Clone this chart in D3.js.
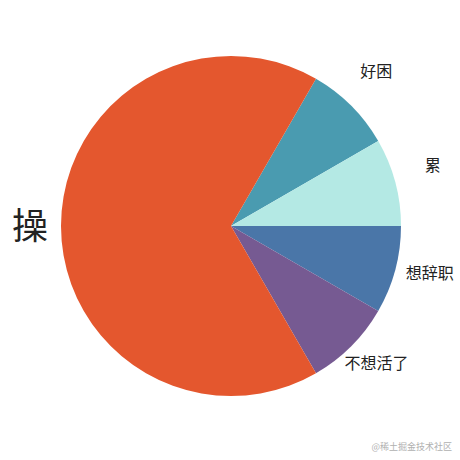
<!DOCTYPE html>
<html><head><meta charset="utf-8">
<script src="https://cdn.jsdelivr.net/npm/d3@7"></script>
<style>html,body{margin:0;padding:0;background:#fff;}</style>
</head><body>
<svg id="c" width="460" height="460"></svg>
<script>
const categories = ["好困", "累", "想辞职", "不想活了", "操"];
const values = [1, 1, 1, 1, 8];
const colors = ["#4a9bb0", "#b4e9e4", "#4a76a8", "#765a92", "#e4572e"];

const svg = d3.select("#c");
const cx = 231, cy = 226, r = 170;
const g = svg.append("g").attr("transform", `translate(${cx},${cy})`);
const pie = d3.pie().sort(null).value(d => d).startAngle(Math.PI / 6).endAngle(Math.PI / 6 + 2 * Math.PI);
const arcs = pie(values);
const arc = d3.arc().innerRadius(0).outerRadius(r);
g.selectAll("path").data(arcs).join("path")
  .attr("d", arc).attr("fill", (d, i) => colors[i]);

// label layout
const labelSizes = [16, 16, 16, 16, 36];
const labelRadius = [213, 211, 204, 199, 201];
const labelShift = [-2, -2, -2, -2, 1].map(v => v * Math.PI / 180);
const mid = (d, i) => (d.startAngle + d.endAngle) / 2 + labelShift[i];
g.selectAll("text.lbl").data(arcs).join("text")
  .attr("class", "lbl")
  .attr("font-family", "'Noto Sans CJK SC', sans-serif")
  .attr("font-size", (d, i) => labelSizes[i])
  .attr("fill", "#222")
  .attr("dominant-baseline", "central")
  .attr("text-anchor", "middle")
  .attr("x", (d, i) => Math.sin(mid(d, i)) * labelRadius[i])
  .attr("y", (d, i) => -Math.cos(mid(d, i)) * labelRadius[i])
  .text((d, i) => categories[i]);

svg.append("text").attr("x", 452).attr("y", 450).attr("text-anchor", "end")
  .attr("font-family", "'Noto Sans CJK SC', sans-serif").attr("font-size", 9).attr("fill", "#b0b0b0")
  .text("@稀土掘金技术社区");
</script>
</body></html>
